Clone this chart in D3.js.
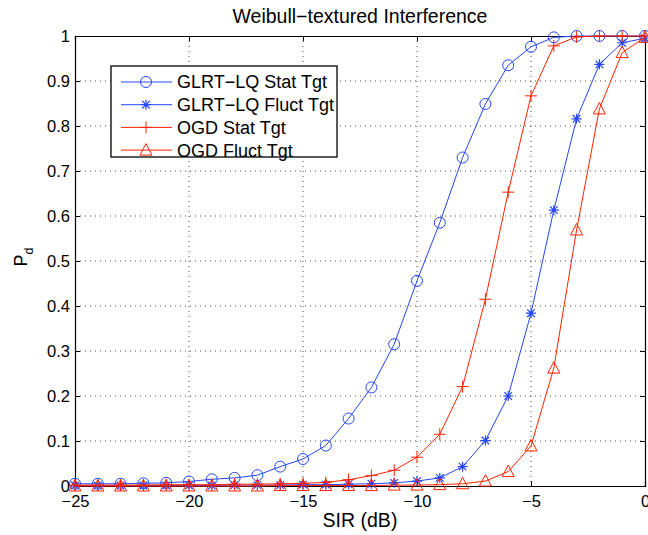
<!DOCTYPE html>
<html><head><meta charset="utf-8">
<script src="https://cdn.jsdelivr.net/npm/d3@7"></script>
<style>body{margin:0;background:#fff}svg{display:block;font-family:"Liberation Sans",Arial,sans-serif}</style>
</head><body><svg id="c" width="648" height="535"></svg>
<script>
const sir = [-25,-24,-23,-22,-21,-20,-19,-18,-17,-16,-15,-14,-13,-12,-11,-10,-9,-8,-7,-6,-5,-4,-3,-2,-1,0];
const glrtStat  = [0.005,0.005,0.005,0.006,0.007,0.010,0.015,0.018,0.024,0.043,0.060,0.090,0.150,0.219,0.315,0.456,0.585,0.730,0.849,0.935,0.976,0.997,1,1,1,1];
const glrtFluct = [0.001,0.001,0.001,0.001,0.001,0.001,0.001,0.002,0.002,0.002,0.003,0.003,0.004,0.005,0.007,0.011,0.018,0.043,0.101,0.200,0.384,0.613,0.816,0.937,0.985,0.995];
const ogdStat   = [0.002,0.002,0.002,0.002,0.003,0.003,0.003,0.004,0.004,0.005,0.006,0.008,0.014,0.023,0.035,0.064,0.115,0.221,0.415,0.653,0.867,0.978,0.998,1,1,1];
const ogdFluct  = [0,0,0,0,0,0,0,0,0,0.001,0.001,0.001,0.001,0.001,0.002,0.002,0.003,0.005,0.011,0.032,0.089,0.262,0.569,0.838,0.963,0.997];
const seriesNames = ["GLRT\u2212LQ Stat Tgt","GLRT\u2212LQ Fluct Tgt","OGD Stat Tgt","OGD Fluct Tgt"];
const xTicks = [-25,-20,-15,-10,-5,0];
const yTicks = [0,0.1,0.2,0.3,0.4,0.5,0.6,0.7,0.8,0.9,1];

const BLUE="#2446ff", RED="#ff2200";
const series = [
  {name:seriesNames[0], vals:glrtStat, color:BLUE, marker:"circle"},
  {name:seriesNames[1], vals:glrtFluct, color:BLUE, marker:"star"},
  {name:seriesNames[2], vals:ogdStat, color:RED, marker:"plus"},
  {name:seriesNames[3], vals:ogdFluct, color:RED, marker:"triangle"}
];

const L=75, R=645, T=36, B=486;
const svg=d3.select("#c");
const x=d3.scaleLinear().domain([-25,0]).range([L,R]);
const y=d3.scaleLinear().domain([0,1]).range([B,T]);
const fmt = v => v<0 ? "\u2212"+Math.abs(v) : String(v);

// grid
const g=svg.append("g");
g.selectAll(".gx").data(xTicks.slice(1,-1)).enter().append("line")
 .attr("x1",d=>x(d)).attr("x2",d=>x(d)).attr("y1",T).attr("y2",B)
 .attr("stroke","#000").attr("stroke-width",0.7).attr("stroke-dasharray","1,4");
g.selectAll(".gy").data(yTicks.slice(1,-1)).enter().append("line")
 .attr("y1",d=>y(d)).attr("y2",d=>y(d)).attr("x1",L).attr("x2",R)
 .attr("stroke","#000").attr("stroke-width",0.7).attr("stroke-dasharray","1,4");

// axes
const ax=svg.append("g").attr("transform",`translate(0,${B})`)
 .call(d3.axisBottom(x).tickValues(xTicks).tickSize(-5).tickPadding(9).tickFormat(fmt));
const axT=svg.append("g").attr("transform",`translate(0,${T})`)
 .call(d3.axisTop(x).tickValues(xTicks).tickSize(-5).tickFormat(""));
const ay=svg.append("g").attr("transform",`translate(${L},0)`)
 .call(d3.axisLeft(y).tickValues(yTicks).tickSize(-5).tickPadding(5).tickFormat(d=>d===0?"0":d===1?"1":d3.format(".1f")(d)));
const ayR=svg.append("g").attr("transform",`translate(${R},0)`)
 .call(d3.axisRight(y).tickValues(yTicks).tickSize(-5).tickFormat(""));
[ax,axT,ay,ayR].forEach(a=>{
  a.select(".domain").attr("stroke","#000").attr("stroke-width",1.2);
  a.selectAll(".tick line").attr("stroke","#000");
  a.selectAll("text").attr("font-size",16.5).attr("fill","#000").attr("font-family","Liberation Sans, Arial, sans-serif");
});

// markers
function drawMarker(sel,type,color){
  if(type==="circle") sel.append("circle").attr("r",5.5).attr("fill","none").attr("stroke",color).attr("stroke-width",1);
  else if(type==="plus") sel.append("path").attr("d","M-6,0H6M0,-6V6").attr("stroke",color).attr("stroke-width",1).attr("fill","none");
  else if(type==="star") sel.append("path").attr("d","M-5,0H5M0,-5V5M-3.8,-3.8L3.8,3.8M-3.8,3.8L3.8,-3.8").attr("stroke",color).attr("stroke-width",1.2).attr("fill","none");
  else if(type==="triangle") sel.append("path").attr("d","M0,-6.5L6,5L-6,5Z").attr("stroke",color).attr("stroke-width",1).attr("fill","none");
}

const line=d3.line().x((d,i)=>x(sir[i])).y(d=>y(d));
series.forEach(s=>{
  const gs=svg.append("g");
  gs.append("path").attr("d",line(s.vals)).attr("fill","none").attr("stroke",s.color).attr("stroke-width",1);
  s.vals.forEach((v,i)=>{
    const m=gs.append("g").attr("transform",`translate(${x(sir[i])},${y(v)})`);
    drawMarker(m,s.marker,s.color);
  });
});

// legend
const lg=svg.append("g");
lg.append("rect").attr("x",111).attr("y",66).attr("width",226).attr("height",91).attr("fill","#fff").attr("stroke","#000").attr("stroke-width",1.3);
series.forEach((s,i)=>{
  const yy=82+i*22.7;
  lg.append("line").attr("x1",121).attr("x2",172).attr("y1",yy).attr("y2",yy).attr("stroke",s.color).attr("stroke-width",1);
  const m=lg.append("g").attr("transform",`translate(146,${yy})`);
  drawMarker(m,s.marker,s.color);
  lg.append("text").attr("x",177).attr("y",yy).attr("dy","0.36em").attr("font-size",18).attr("fill","#000").text(s.name);
});

// title and labels
svg.append("text").attr("x",360).attr("y",23).attr("text-anchor","middle").attr("font-size",19.5).text("Weibull\u2212textured Interference");
svg.append("text").attr("x",360).attr("y",527).attr("text-anchor","middle").attr("font-size",19.5).text("SIR (dB)");
const yl=svg.append("text").attr("transform","translate(27,257) rotate(-90)").attr("text-anchor","middle").attr("font-size",18);
yl.append("tspan").text("P");
yl.append("tspan").attr("font-size",12.5).attr("dy",6).text("d");
</script></body></html>
